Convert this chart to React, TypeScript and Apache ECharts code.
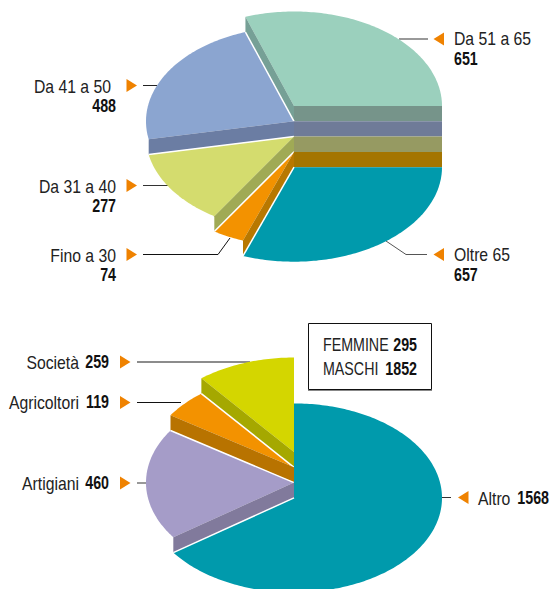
import React, { useEffect, useRef } from "react";
import * as echarts from "echarts";

// ---- data ----
const ageLabels = ["Da 51 a 65", "Da 41 a 50", "Da 31 a 40", "Fino a 30", "Oltre 65"];
const ageValues = [651, 488, 277, 74, 657];
const jobLabels = ["Società", "Agricoltori", "Artigiani", "Altro"];
const jobValues = [259, 119, 460, 1568];
const genderLabels = ["FEMMINE", "MASCHI"];
const genderValues = [295, 1852];

// ---- colours ----
const ageTop = ["#9bd0bd", "#8ba5d0", "#d4dc6e", "#f39200", "#009aac"];
const ageEndWall = ["#76a096", "#6b7da3", "#a0aa55", "#b87800", "#009aac"];
const ageStartWall = ["#76948a", "#6f7b98", "#969a62", "#a47500", "#009aac"];
const jobTop = ["#d4d600", "#f39200", "#a59cc8", "#009aac"];
const jobEndWall = ["#a5a800", "#b87300", "#817a9c", "#009aac"];

const ORANGE = "#ef8200";
const FONT = '"Liberation Sans", Arial, sans-serif';
const SIZE = 19;
const BOLD_SIZE = 19;
const REGULAR_SCALE = 0.83;
const CAPS_SCALE = 0.75;
const BOLD_SCALE = 0.75;

// ---- pie geometry ----
const RX = 148;
const RY = 94.5;
const STEP = 15.3;

type Pie = {
  cx: number;
  cy: number;
  start: number;
  values: number[];
  top: string[];
  endWall: string[];
  startWall: string[];
};

const pt = (p: Pie, deg: number, level: number): number[] => {
  const a = (deg * Math.PI) / 180;
  return [p.cx + RX * Math.cos(a), p.cy + level * STEP - RY * Math.sin(a)];
};

const makeSeries = (p: Pie) => {
  const total = p.values.reduce((s, v) => s + v, 0);
  return {
    type: "custom",
    coordinateSystem: "none",
    silent: true,
    z: 2,
    data: p.values.map((v) => [v]),
    renderItem: (params: any, api: any) => {
      const i = params.dataIndex;
      const before = p.values.slice(0, i).reduce((s, v) => s + v, 0);
      const a0 = p.start + (before / total) * 360;
      const a1 = a0 + (api.value(0) / total) * 360;
      const apex = [p.cx, p.cy + i * STEP];
      const n = Math.max(3, Math.ceil(a1 - a0));
      const pts: number[][] = [apex];
      for (let k = 0; k <= n; k++) pts.push(pt(p, a0 + ((a1 - a0) * k) / n, i));
      const children: any[] = [
        { type: "polygon", shape: { points: pts }, style: { fill: p.top[i] } },
      ];
      if (i > 0) {
        // white seam between this slice's top and the wall of the slice above it
        const s = pt(p, a0, i);
        children.push({
          type: "line",
          shape: { x1: s[0], y1: s[1], x2: apex[0], y2: apex[1] },
          style: { stroke: "#ffffff", lineWidth: 1.5 },
        });
      }
      if (i < p.values.length - 1) {
        const apexLow = [p.cx, p.cy + (i + 1) * STEP];
        children.push({
          type: "polygon",
          shape: { points: [pt(p, a1, i), apex, apexLow, pt(p, a1, i + 1)] },
          style: { fill: p.endWall[i] },
        });
        children.push({
          type: "polygon",
          shape: { points: [pt(p, p.start, i), apex, apexLow, pt(p, p.start, i + 1)] },
          style: { fill: p.startWall[i] },
        });
      }
      return { type: "group", children };
    },
  };
};

// ---- helpers for annotations ----
const txt = (s: string, x: number, y: number, align: string, bold = false, scale?: number) => ({
  type: "text",
  x,
  y,
  scaleX: scale ?? (bold ? BOLD_SCALE : REGULAR_SCALE),
  silent: true,
  style: {
    text: s,
    textAlign: align,
    textVerticalAlign: "middle",
    font: `${bold ? "bold " : ""}${bold ? BOLD_SIZE : SIZE}px ${FONT}`,
    fill: bold ? "#111111" : "#222222",
  },
});

const arrow = (x: number, y: number, dir: 1 | -1) => ({
  type: "polygon",
  silent: true,
  shape: {
    points:
      dir === 1
        ? [[x, y - 6.5], [x + 10.5, y], [x, y + 6.5]]
        : [[x + 10.5, y - 6.5], [x, y], [x + 10.5, y + 6.5]],
  },
  style: { fill: ORANGE },
});

const leader = (points: number[][], stroke: string, lineWidth = 1) => ({
  type: "polyline",
  silent: true,
  shape: { points },
  style: { stroke, lineWidth, fill: "none" },
});

const buildGraphics = () => [
  // upper pie, right side
  leader([[399, 39], [428, 39]], "#777777", 1.5),
  arrow(433.5, 39, -1),
  txt(ageLabels[0], 454, 38, "left"),
  txt(String(ageValues[0]), 454, 59, "left", true),
  leader([[386, 241], [406, 254.5], [427, 254.5]], "#555555", 1),
  arrow(433.5, 254.5, -1),
  txt(ageLabels[4], 454, 254, "left"),
  txt(String(ageValues[4]), 454, 275, "left", true),
  // upper pie, left side
  leader([[143, 85.5], [157, 85.5]], "#222222", 1),
  arrow(126.5, 85.5, 1),
  txt(ageLabels[1], 111, 86, "right"),
  txt(String(ageValues[1]), 116, 106, "right", true),
  leader([[143, 185.5], [168, 185.5]], "#333333", 1),
  arrow(126.5, 185.5, 1),
  txt(ageLabels[2], 116, 186, "right"),
  txt(String(ageValues[2]), 116, 206, "right", true),
  leader([[143, 254.5], [218, 254.5], [230, 238]], "#111111", 1),
  arrow(126.5, 254.5, 1),
  txt(ageLabels[3], 116, 255, "right"),
  txt(String(ageValues[3]), 116, 275, "right", true),
  // lower pie
  leader([[137, 362], [250, 362]], "#666666", 1.5),
  arrow(120, 362, 1),
  txt(jobLabels[0], 79, 362, "right"),
  txt(String(jobValues[0]), 109, 362, "right", true),
  leader([[137, 402.5], [181, 402.5]], "#111111", 1),
  arrow(120, 402.5, 1),
  txt(jobLabels[1], 79, 402, "right"),
  txt(String(jobValues[1]), 109, 402, "right", true),
  leader([[137, 483], [147, 483]], "#777777", 1.5),
  arrow(120, 483, 1),
  txt(jobLabels[2], 79, 483, "right"),
  txt(String(jobValues[2]), 109, 483, "right", true),
  leader([[442, 497.5], [451, 497.5]], "#333333", 1),
  arrow(458, 497.5, -1),
  txt(jobLabels[3], 478, 498, "left"),
  txt(String(jobValues[3]), 549, 498, "right", true),
  // box
  {
    type: "rect",
    silent: true,
    shape: { x: 308.5, y: 323.5, width: 123, height: 66 },
    style: { fill: "#ffffff", stroke: "#111111", lineWidth: 1 },
  },
  leader([[308, 390.5], [432, 390.5]], "#888888", 1),
  txt(genderLabels[0], 323, 345, "left", false, CAPS_SCALE),
  txt(String(genderValues[0]), 417, 345, "right", true),
  txt(genderLabels[1], 323, 369, "left", false, CAPS_SCALE),
  txt(String(genderValues[1]), 417, 369, "right", true),
];

export default function App() {
  const ref = useRef<HTMLDivElement>(null);
  useEffect(() => {
    const chart = echarts.init(ref.current!, undefined, { renderer: "svg" });
    chart.setOption({
      animation: false,
      backgroundColor: "#ffffff",
      series: [
        makeSeries({
          cx: 294,
          cy: 106,
          start: 0,
          values: ageValues,
          top: ageTop,
          endWall: ageEndWall,
          startWall: ageStartWall,
        }),
        makeSeries({
          cx: 294,
          cy: 452,
          start: 90,
          values: jobValues,
          top: jobTop,
          endWall: jobEndWall,
          startWall: jobEndWall,
        }),
      ],
      graphic: { elements: buildGraphics() },
    });
    return () => chart.dispose();
  }, []);
  return (
    <div
      ref={ref}
      style={{ position: "absolute", left: 0, top: 0, width: 550, height: 589, overflow: "hidden" }}
    />
  );
}
